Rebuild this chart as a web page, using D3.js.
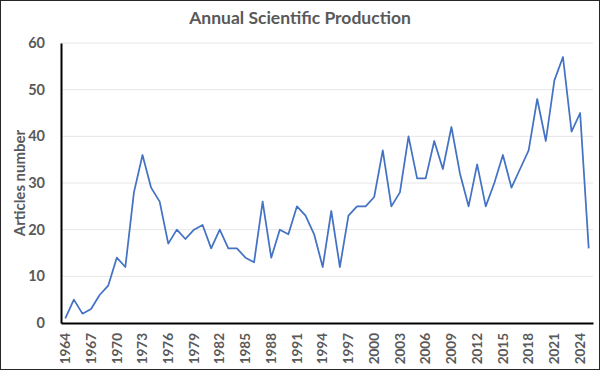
<!DOCTYPE html>
<html>
<head>
<meta charset="utf-8">
<script src="https://cdn.jsdelivr.net/npm/d3@7"></script>
<style>
  body { margin: 0; background: #fff; }
  svg { display: block; }
  text { font-family: Lato, "Open Sans", sans-serif; fill: #595959; font-weight: bold; }
</style>
</head>
<body>
<div class="container"></div>
<script>
// one value per year, 1964 .. 2025
var years = d3.range(1964, 2026);
var articles = [1, 5, 2, 3, 6, 8, 14, 12, 28, 36,
    29, 26, 17, 20, 18, 20, 21, 16, 20, 16,
    16, 14, 13, 26, 14, 20, 19, 25, 23, 19,
    12, 24, 12, 23, 25, 25, 27, 37, 25, 28,
    40, 31, 31, 39, 33, 42, 32, 25, 34, 25,
    30, 36, 29, 33, 37, 48, 39, 52, 57, 41,
    45, 16];
var yTicks = [0, 10, 20, 30, 40, 50, 60];
var xTickLabels = years.filter(function (y) { return (y - 1964) % 3 == 0; });

var width = 601, height = 371;
var margin = { top: 43, right: 8, bottom: 48, left: 61 };

var svg = d3.select(".container").append("svg")
    .attr("width", width)
    .attr("height", height);

// outer frame
svg.append("rect")
    .attr("x", 0.5).attr("y", 0.5)
    .attr("width", width - 2).attr("height", height - 2)
    .attr("fill", "none")
    .attr("stroke", "#262626")
    .attr("stroke-width", 1);

var x = d3.scaleBand()
    .domain(years)
    .range([margin.left, width - margin.right]);

var y = d3.scaleLinear()
    .domain([0, 60])
    .range([height - margin.bottom, margin.top]);

// gridlines
svg.append("g")
    .selectAll("line")
    .data(yTicks.slice(1))
    .enter()
    .append("line")
    .attr("x1", margin.left)
    .attr("x2", width - margin.right)
    .attr("y1", function (d) { return y(d); })
    .attr("y2", function (d) { return y(d); })
    .attr("stroke", "#e6e6e6")
    .attr("stroke-width", 1);

// y axis
var yAxis = svg.append("g")
    .attr("transform", "translate(" + margin.left + ",0)")
    .call(d3.axisLeft(y).tickValues(yTicks).tickSize(0).tickPadding(16));
yAxis.select(".domain").attr("stroke", "#000").attr("stroke-width", 2);
yAxis.selectAll("text").attr("font-size", 14.5).attr("fill", "#595959");

// x axis
var xAxis = svg.append("g")
    .attr("transform", "translate(0," + y(0) + ")")
    .call(d3.axisBottom(x).tickValues(xTickLabels).tickSize(0).tickSizeOuter(0));
xAxis.select(".domain").attr("stroke", "#000").attr("stroke-width", 2);
xAxis.selectAll("text")
    .attr("font-size", 13.5)
    .attr("fill", "#595959")
    .attr("transform", "rotate(-90)")
    .attr("text-anchor", "end")
    .attr("dy", "0.35em")
    .attr("x", -10)
    .attr("y", 0);

// line
var line = d3.line()
    .x(function (d, i) { return x(years[i]) + x.bandwidth() / 2; })
    .y(function (d) { return y(d); });

svg.append("path")
    .datum(articles)
    .attr("d", line)
    .attr("fill", "none")
    .attr("stroke", "#4472c4")
    .attr("stroke-width", 1.75)
    .attr("stroke-linejoin", "round");

// titles
svg.append("text")
    .attr("x", 300)
    .attr("y", 24)
    .attr("text-anchor", "middle")
    .attr("font-size", 17.5)
    .text("Annual Scientific Production");

svg.append("text")
    .attr("transform", "translate(25,183) rotate(-90)")
    .attr("text-anchor", "middle")
    .attr("font-size", 15)
    .text("Articles number");
</script>
</body>
</html>
